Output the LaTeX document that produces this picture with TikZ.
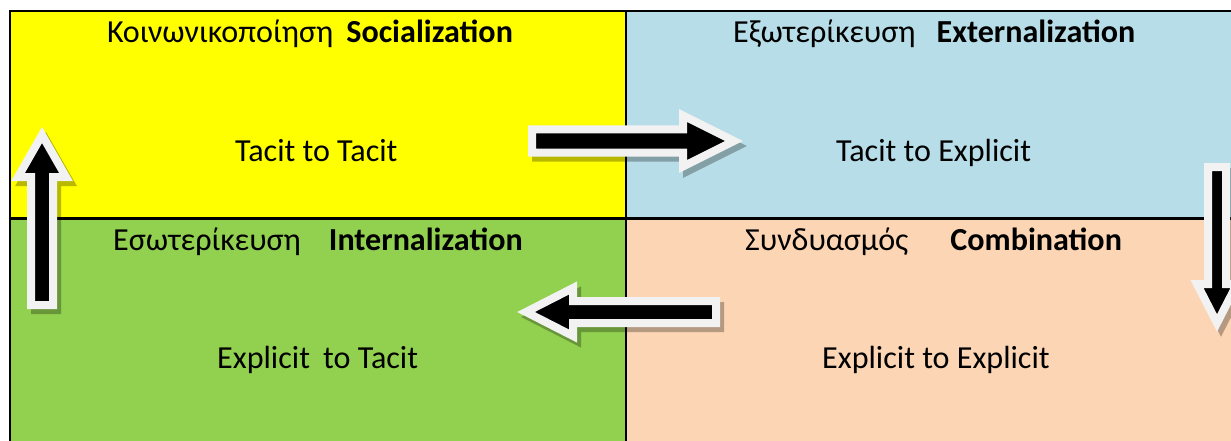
\documentclass[tikz,border=0pt]{standalone}
\usepackage{fontspec}
\setmainfont{Carlito}
\definecolor{cellyellow}{HTML}{FFFF00}
\definecolor{cellblue}{HTML}{B7DEE8}
\definecolor{cellgreen}{HTML}{92D050}
\definecolor{cellpeach}{HTML}{FCD5B4}
\definecolor{arrowrim}{HTML}{F2F2F2}
\tikzset{
  txt/.style={inner sep=0pt, anchor=base west, font=\fontsize{32.1}{38}\selectfont},
  grid/.style={line width=2.2pt, black},
  blockarrow/.style={line width=8pt, draw=arrowrim, fill=black, line join=miter, miter limit=10},
  arrowshadow/.style={line width=8pt, draw=black, fill=black, line join=miter, miter limit=10}
}
\begin{document}
\begin{tikzpicture}[x=1pt,y=-1pt]
\useasboundingbox (0,0) rectangle (1231,441);
% quadrants
\fill[cellyellow] (10,11) rectangle (626,218.5);
\fill[cellblue]   (626,11) rectangle (1240,218.5);
\fill[cellgreen]  (10,218.5) rectangle (626,450);
\fill[cellpeach]  (626,218.5) rectangle (1240,450);
% table rules
\draw[grid] (10,450) -- (10,11) -- (1240,11);
\draw[grid] (626,11) -- (626,450);
\draw[grid] (10,218.5) -- (1240,218.5);
% texts
\node[txt] (soc)  at (107,43)  {Κοινωνικοποίηση\hspace{13pt}\textbf{Socialization}};
\node[txt] (ext)  at (733,43)  {Εξωτερίκευση\hspace{21pt}\textbf{Externalization}};
\node[txt] (int)  at (113,250) {Εσωτερίκευση\hspace{28pt}\textbf{Internalization}};
\node[txt] (comb) at (745,250) {Συνδυασμός\hspace{42pt}\textbf{Combination}};
\node[txt] (tt)   at (235,161) {Tacit to Tacit};
\node[txt] (te)   at (836,161) {Tacit to Explicit};
\node[txt] (et)   at (217,368) {Explicit\hspace{6pt} to Tacit};
\node[txt] (ee)   at (822,368) {Explicit to Explicit};
% block arrows: shadows
\begin{scope}[transparency group, opacity=0.28, shift={(4,5)}]
  \path[arrowshadow] (532,129.5) -- (683,129.5) -- (683,115.5) -- (734,141) -- (683,166.5) -- (683,152.5) -- (532,152.5) -- cycle;
  \path[arrowshadow] (1208,167) -- (1226,167) -- (1226,284) -- (1237,284) -- (1217,323) -- (1197,284) -- (1208,284) -- cycle;
  \path[arrowshadow] (716,301) -- (573,301) -- (573,288) -- (526,312) -- (573,336) -- (573,323) -- (716,323) -- cycle;
  \path[arrowshadow] (31,305) -- (31,177) -- (18,177) -- (42,135) -- (66,177) -- (53,177) -- (53,305) -- cycle;
\end{scope}
% block arrows
\path[blockarrow] (532,129.5) -- (683,129.5) -- (683,115.5) -- (734,141) -- (683,166.5) -- (683,152.5) -- (532,152.5) -- cycle;
\path[blockarrow] (1208,167) -- (1226,167) -- (1226,284) -- (1237,284) -- (1217,323) -- (1197,284) -- (1208,284) -- cycle;
\path[blockarrow] (716,301) -- (573,301) -- (573,288) -- (526,312) -- (573,336) -- (573,323) -- (716,323) -- cycle;
\path[blockarrow] (31,305) -- (31,177) -- (18,177) -- (42,135) -- (66,177) -- (53,177) -- (53,305) -- cycle;
\end{tikzpicture}
\end{document}
